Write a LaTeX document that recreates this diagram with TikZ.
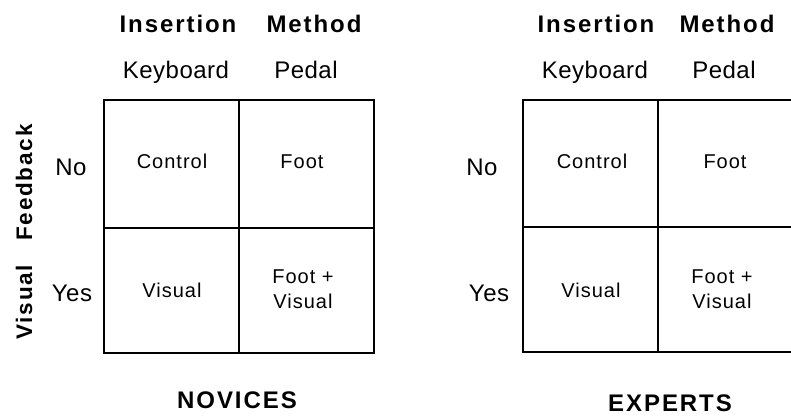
\documentclass[tikz,border=0pt]{standalone}
\usepackage{fontspec}
\setmainfont{Liberation Sans}
\tikzset{
  head/.style={font=\fontsize{24}{28}\selectfont\bfseries\addfontfeatures{LetterSpace=8}},
  side/.style={font=\fontsize{22.5}{26}\selectfont\bfseries\addfontfeatures{LetterSpace=8}},
  lab/.style={font=\fontsize{24}{28}\selectfont\addfontfeatures{LetterSpace=2}},
  cell/.style={font=\fontsize{20}{25}\selectfont\addfontfeatures{LetterSpace=5}, align=center},
  grid/.style={line width=2.2pt}
}
\begin{document}
\begin{tikzpicture}[x=1pt,y=-1pt]
\useasboundingbox (0,0) rectangle (791,415);
% novices
\draw [grid] (104,100)-- (374,100)-- (374,353)-- (104,353)-- cycle;
\draw [grid] (239,100)-- (239,353);
\draw [grid] (104,228)-- (374,228);
\node[head, anchor=base] (ins1) at (178,32) {Insertion};
\node[head, anchor=base] (meth1) at (314,32) {Method};
\node[lab, anchor=base] (kb1) at (176,78) {Keyboard};
\node[lab, anchor=base] (ped1) at (306,78) {Pedal};
\node[lab, anchor=base] (no1) at (71,175) {No};
\node[lab, anchor=base] (yes1) at (72,301) {Yes};
\node[side, anchor=base, rotate=90] (vfb) at (32,232) {Visual\hspace{24pt}Feedback};
\node[cell, anchor=base] (ctrl1) at (172,168) {Control};
\node[cell, anchor=base] (foot1) at (302,168) {Foot};
\node[cell, anchor=base] (vis1) at (172,297) {Visual};
\node[cell] (fv1) at (303,289) {Foot +\\Visual};
\node[head, anchor=base] (nov) at (237,408) {NOVICES};
% experts
\draw [grid] (793,100)-- (523,100)-- (523,352)-- (793,352);
\draw [grid] (658,100)-- (658,352);
\draw [grid] (523,227)-- (793,227);
\draw [grid] (793,100)-- (793,352);
\node[head, anchor=base] (ins2) at (596,32) {Insertion};
\node[head, anchor=base] (meth2) at (727,32) {Method};
\node[lab, anchor=base] (kb2) at (595,78) {Keyboard};
\node[lab, anchor=base] (ped2) at (724,78) {Pedal};
\node[lab, anchor=base] (no2) at (482,175) {No};
\node[lab, anchor=base] (yes2) at (489,301) {Yes};
\node[cell, anchor=base] (ctrl2) at (592,168) {Control};
\node[cell, anchor=base] (foot2) at (725,168) {Foot};
\node[cell, anchor=base] (vis2) at (591,297) {Visual};
\node[cell] (fv2) at (722,289) {Foot +\\Visual};
\node[head, anchor=base] (exp) at (670,411) {EXPERTS};
\end{tikzpicture}
\end{document}
